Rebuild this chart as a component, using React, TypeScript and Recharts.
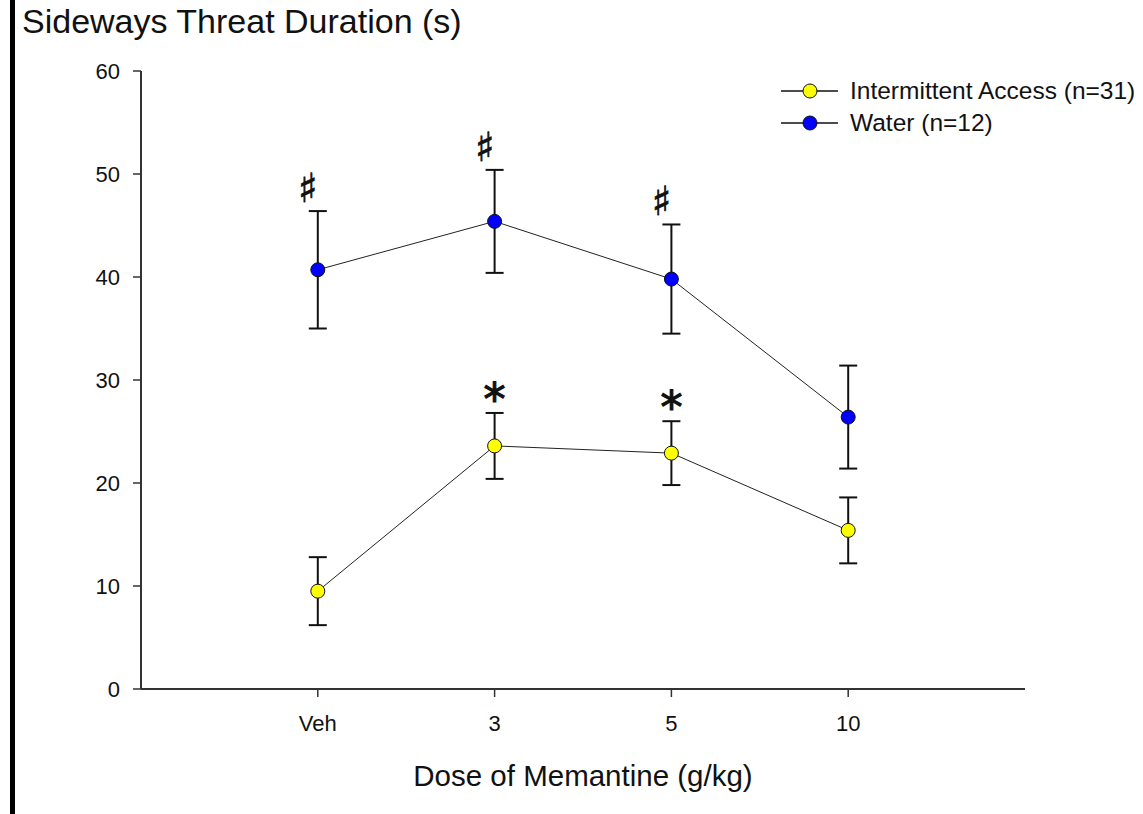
import { ComposedChart, Line, Scatter, XAxis, YAxis, ErrorBar } from 'recharts';

const doses = ['Veh', '3', '5', '10'];
const iaMean = [9.5, 23.6, 22.9, 15.4];
const iaSem = [3.3, 3.2, 3.1, 3.2];
const waterMean = [40.7, 45.4, 39.8, 26.4];
const waterSem = [5.7, 5.0, 5.3, 5.0];
const iaMarks = ['', '*', '*', ''];
const waterMarks = ['\u266F', '\u266F', '\u266F', ''];
const yTicks = [0, 10, 20, 30, 40, 50, 60];

const data = doses.map((d, i) => ({
  pos: i + 1,
  dose: d,
  ia: iaMean[i],
  iaErr: iaSem[i],
  iaTop: iaMean[i] + iaSem[i],
  iaMark: iaMarks[i],
  water: waterMean[i],
  waterErr: waterSem[i],
  waterTop: waterMean[i] + waterSem[i],
  waterMark: waterMarks[i],
}));

const FONT = '"Liberation Sans", Arial, sans-serif';

// sharp sign above the water error bars
const HashMark = (props: any) => {
  const { cx, cy, payload } = props;
  if (!payload.waterMark) return <g />;
  return (
    <text
      x={cx - 10}
      y={cy - 9}
      textAnchor="middle"
      fontSize={40}
      fontFamily="DejaVu Sans"
      fill="#111"
      stroke="#111"
      strokeWidth={0.8}
    >
      {payload.waterMark}
    </text>
  );
};

// asterisk above the IA error bars
const StarMark = (props: any) => {
  const { cx, cy, payload } = props;
  if (!payload.iaMark) return <g />;
  return (
    <text
      x={cx}
      y={cy + 2}
      textAnchor="middle"
      fontSize={44}
      fontFamily="DejaVu Sans"
      fill="#111"
      stroke="#111"
      strokeWidth={1.2}
    >
      {payload.iaMark}
    </text>
  );
};

const series = [
  { name: 'Intermittent Access (n=31)', fill: '#FFFF00' },
  { name: 'Water (n=12)', fill: '#0000FF' },
];

export default function App() {
  return (
    <div style={{ position: 'absolute', left: 0, top: 0, width: 1143, height: 814, background: '#fff', fontFamily: FONT }}>
      <ComposedChart
        width={1143}
        height={814}
        data={data}
        margin={{ top: 71, right: 118, left: 81, bottom: 95 }}
      >
        <XAxis
          dataKey="pos"
          type="number"
          domain={[0, 5]}
          ticks={[1, 2, 3, 4]}
          tickFormatter={(v: number) => doses[v - 1]}
          height={30}
          tickSize={8}
          tickMargin={18}
          axisLine={{ stroke: '#333', strokeWidth: 2 }}
          tickLine={{ stroke: '#333', strokeWidth: 1.5 }}
          tick={{ fill: '#111', fontSize: 22, fontFamily: FONT }}
        />
        <YAxis
          type="number"
          domain={[0, 60]}
          ticks={yTicks}
          width={60}
          tickSize={8}
          tickMargin={13}
          axisLine={{ stroke: '#333', strokeWidth: 2 }}
          tickLine={{ stroke: '#333', strokeWidth: 1.5 }}
          tick={{ fill: '#111', fontSize: 22, fontFamily: FONT }}
        />
        <Line
          dataKey="water"
          stroke="#222"
          strokeWidth={1}
          isAnimationActive={false}
          dot={{ r: 7, fill: '#0000FF', stroke: '#111', strokeWidth: 1 }}
          activeDot={false}
        >
          <ErrorBar dataKey="waterErr" width={9} stroke="#111" strokeWidth={2} direction="y" />
        </Line>
        <Line
          dataKey="ia"
          stroke="#222"
          strokeWidth={1}
          isAnimationActive={false}
          dot={{ r: 7, fill: '#FFFF00', stroke: '#111', strokeWidth: 1 }}
          activeDot={false}
        >
          <ErrorBar dataKey="iaErr" width={9} stroke="#111" strokeWidth={2} direction="y" />
        </Line>
        <Scatter dataKey="waterTop" isAnimationActive={false} shape={HashMark} legendType="none" />
        <Scatter dataKey="iaTop" isAnimationActive={false} shape={StarMark} legendType="none" />
      </ComposedChart>

      <svg width={1143} height={814} style={{ position: 'absolute', left: 0, top: 0, pointerEvents: 'none' }}>
        <rect x={10} y={0} width={5} height={814} fill="#000" />
        <text x={22} y={33} fontSize={34} fontFamily={FONT} fill="#111">
          Sideways Threat Duration (s)
        </text>
        <text x={583} y={786} fontSize={29.5} fontFamily={FONT} fill="#111" textAnchor="middle">
          Dose of Memantine (g/kg)
        </text>
        {series.map((s, i) => {
          const y = 91 + i * 32;
          return (
            <g key={s.name}>
              <line x1={781} x2={838} y1={y} y2={y} stroke="#111" strokeWidth={1.5} />
              <circle cx={810} cy={y} r={7} fill={s.fill} stroke="#111" strokeWidth={1} />
              <text x={850} y={y + 8} fontSize={24.5} fontFamily={FONT} fill="#111">
                {s.name}
              </text>
            </g>
          );
        })}
      </svg>
    </div>
  );
}
